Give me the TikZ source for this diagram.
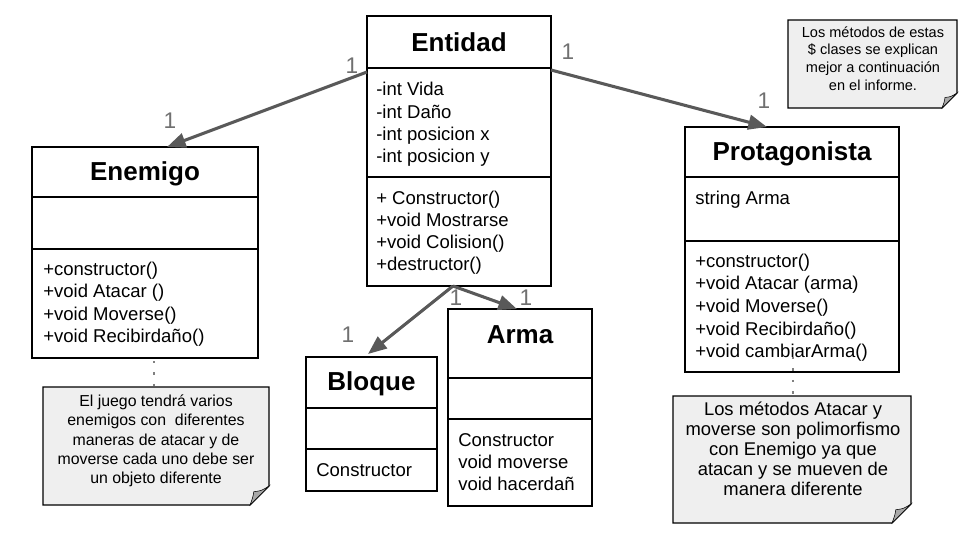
\documentclass[tikz,border=0pt]{standalone}
\usepackage{fontspec}
\setmainfont{Liberation Sans}
\usetikzlibrary{calc,arrows.meta}
\definecolor{arrowgray}{HTML}{595959}
\definecolor{labelgray}{HTML}{707070}
\definecolor{notefill}{HTML}{EFEFEF}
\definecolor{foldfill}{HTML}{A8A8A8}
\definecolor{dotgray}{HTML}{808080}
\newcommand{\drawnote}[2]{%
  \path[draw=black,line width=0.8pt,fill=notefill]
    (#1.north west) -- (#1.north east) -- ($(#1.south east)+(0,-#2)$)
    -- ($(#1.south east)+(-#2,0)$) -- (#1.south west) -- cycle;
  \path[draw=black,line width=0.4pt,fill=foldfill]
    ($(#1.south east)+(0,-#2)$)
    .. controls ($(#1.south east)+(-0.4*#2,-0.75*#2)$) .. ($(#1.south east)+(-0.8*#2,-0.7*#2)$)
    .. controls ($(#1.south east)+(-0.85*#2,-0.4*#2)$) .. ($(#1.south east)+(-#2,0)$) -- cycle;
}
\begin{document}
\begin{tikzpicture}[x=0.75pt,y=-0.75pt,
  classbox/.style={draw=black,line width=0.8pt,inner sep=0pt,outer sep=0pt},
  divider/.style={draw=black,line width=0.8pt},
  ctitle/.style={font=\fontsize{19.5pt}{23pt}\selectfont\bfseries,anchor=base,inner sep=0pt},
  ctext/.style={font=\fontsize{13.9pt}{16pt}\selectfont,anchor=base west,inner sep=0pt},
  mult/.style={font=\fontsize{17pt}{20pt}\selectfont,text=labelgray,anchor=base,inner sep=0pt},
  assoc/.style={draw=arrowgray,line width=2.3pt,-{Triangle[length=14pt,width=11pt]}},
  notenode/.style={inner sep=0pt,outer sep=0pt},
  dotline/.style={draw=dotgray,line width=2pt,dash pattern=on 1.6pt off 7pt},
  ]
\useasboundingbox (0,0) rectangle (960,540);

% ---- classes
\node[classbox,minimum width=138pt,minimum height=202.5pt] (entidad) at (459,151) {};
\node[classbox,minimum width=169.5pt,minimum height=158.25pt] (enemigo) at (145,252.5) {};
\node[classbox,minimum width=160.5pt,minimum height=183.75pt] (prot) at (792,249.5) {};
\node[classbox,minimum width=98.25pt,minimum height=100.5pt] (bloque) at (371.5,424) {};
\node[classbox,minimum width=108pt,minimum height=147.75pt] (arma) at (520,407.5) {};

\draw[divider] (entidad.west |- 0,68) -- (entidad.east |- 0,68);
\draw[divider] (entidad.west |- 0,177) -- (entidad.east |- 0,177);
\draw[divider] (enemigo.west |- 0,197) -- (enemigo.east |- 0,197);
\draw[divider] (enemigo.west |- 0,249) -- (enemigo.east |- 0,249);
\draw[divider] (prot.west |- 0,177) -- (prot.east |- 0,177);
\draw[divider] (prot.west |- 0,241) -- (prot.east |- 0,241);
\draw[divider] (bloque.west |- 0,408) -- (bloque.east |- 0,408);
\draw[divider] (bloque.west |- 0,449) -- (bloque.east |- 0,449);
\draw[divider] (arma.west |- 0,378) -- (arma.east |- 0,378);
\draw[divider] (arma.west |- 0,419) -- (arma.east |- 0,419);

\node[ctitle] (entidadT) at (459,51) {Entidad};
\node[ctitle] (enemigoT) at (145,180) {Enemigo};
\node[ctitle] (protT) at (792,160) {Protagonista};
\node[ctitle] (bloqueT) at (371.5,390.7) {Bloque};
\node[ctitle] (armaT) at (520,343.3) {Arma};

\foreach \t [count=\i from 0] in {-int Vida,-int Daño,-int posicion x,-int posicion y}
  \node[ctext] (ea\i) at (376,{95.7+22.3*\i}) {\t};
\foreach \t [count=\i from 0] in {+ Constructor(),+void Mostrarse,+void Colision(),+destructor()}
  \node[ctext] (em\i) at (376,{204+22.3*\i}) {\t};
\foreach \t [count=\i from 0] in {+constructor(),+void Atacar (),+void Moverse(),+void Recibirdaño()}
  \node[ctext] (nm\i) at (43,{275+22.5*\i}) {\t};
\node[ctext] (pa0) at (695,204) {string Arma};
\foreach \t [count=\i from 0] in {+constructor(),+void Atacar (arma),+void Moverse(),+void Recibirdaño(),+void cambiarArma()}
  \node[ctext] (pm\i) at (695,{267.3+22.6*\i}) {\t};
\node[ctext] (bm0) at (316,476.7) {Constructor};
\foreach \t [count=\i from 0] in {Constructor,void moverse,void hacerdañ}
  \node[ctext] (am\i) at (458,{446.7+22*\i}) {\t};

% ---- associations
\draw[assoc] ($(entidad.north west)+(0,56)$) -- ($(enemigo.north)+(22,0)$);
\draw[assoc] ($(entidad.north east)+(0,54)$) -- ($(prot.north)+(-25,0)$);
\draw[assoc] ($(entidad.south)+(-6,0)$) -- ($(bloque.north)+(-3.5,-3)$);
\draw[assoc] ($(entidad.south)+(-6,0)$) -- ($(arma.north)+(-3,0)$);

\node[mult] (m1) at (352,73) {1};
\node[mult] (m2) at (170,128) {1};
\node[mult] (m3) at (568,59) {1};
\node[mult] (m4) at (764,108) {1};
\node[mult] (m5) at (348,342) {1};
\node[mult] (m6) at (456,305) {1};
\node[mult] (m7) at (526,305) {1};

% ---- notes
\node[notenode,minimum width=126.75pt,minimum height=66pt] (n1) at (872.5,64) {};
\node[notenode,minimum width=169.5pt,minimum height=88.5pt] (n2) at (156,446) {};
\node[notenode,minimum width=178.5pt,minimum height=95.25pt] (n3) at (792,459.5) {};
\drawnote{n1}{15}
\drawnote{n2}{19}
\drawnote{n3}{19}

\foreach \t [count=\i from 0] in {Los métodos de estas,\$ clases se explican,mejor a continuación,en el informe.}
  \node[font=\fontsize{10.9pt}{13pt}\selectfont,anchor=base,inner sep=0pt] (t1\i) at (873,{37.3+17.6*\i}) {\t};
\foreach \t [count=\i from 0] in {El juego tendrá varios,enemigos con~ diferentes,maneras de atacar y de,moverse cada uno debe ser,un objeto diferente}
  \node[font=\fontsize{11.9pt}{14pt}\selectfont,anchor=base,inner sep=0pt] (t2\i) at (156,{406.7+19.2*\i}) {\t};
\foreach \t [count=\i from 0] in {Los métodos Atacar y,moverse son polimorfismo,con Enemigo ya que,atacan y se mueven de,manera diferente}
  \node[font=\fontsize{13.8pt}{16pt}\selectfont,anchor=base,inner sep=0pt] (t3\i) at (793,{415+20*\i}) {\t};

% ---- dotted note connectors
\coordinate (d1) at ($(enemigo.south)+(9,3)$);
\draw[dotline] (d1) -- (d1 |- n2.north);
\coordinate (d2) at ($(prot.south)+(1,-15)$);
\draw[dotline] (d2) -- (d2 |- n3.north);
\end{tikzpicture}
\end{document}
